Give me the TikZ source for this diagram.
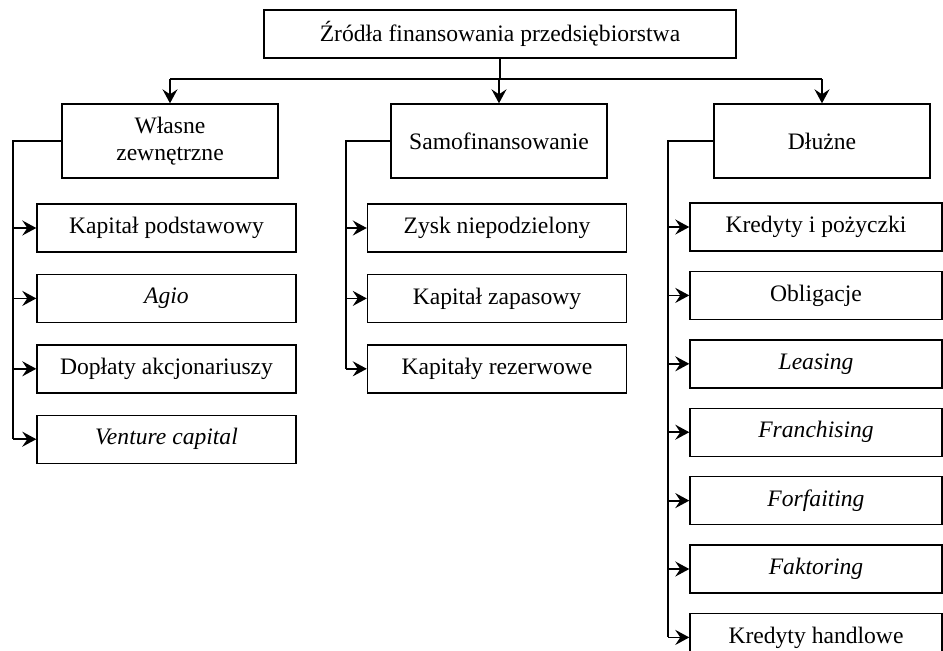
\documentclass[tikz,border=0pt]{standalone}
\usepackage{fontspec}
\setmainfont{Liberation Serif}
\usepackage{tikz}
\usetikzlibrary{arrows.meta, positioning, calc}
\tikzset{
  topblock/.style={
    rectangle, draw=black, line width=0.7pt, inner sep=0pt,
    minimum width=236pt, minimum height=24pt,
    text centered
  },
  groupblock/.style={
    rectangle, draw=black, line width=0.7pt, inner sep=0pt,
    minimum width=108pt, minimum height=37pt,
    align=center
  },
  itemblock/.style={
    rectangle, draw=black, line width=0.7pt, inner sep=0pt,
    minimum width=129.5pt, minimum height=24pt,
    text centered
  },
  connline/.style={line width=0.9pt, color=black},
  arrow/.style={-{Stealth[length=7pt, width=7.5pt, inset=2.5pt]}, line width=0.9pt, color=black},
}

\begin{document}
\begin{tikzpicture}[x=0.5pt, y=-0.5pt,
                    every node/.style={font=\fontsize{11.8pt}{13.5pt}\selectfont}]
  \useasboundingbox (0,0) rectangle (943,650);

  \node[topblock] (zrodla) at (500,34) {Źródła finansowania przedsiębiorstwa};

  \node[groupblock] (wlasne) at (170,141) {Własne\\zewnętrzne};
  \node[groupblock] (samo) at (499,141) {Samofinansowanie};
  \node[groupblock] (dluzne) at (822,141) {Dłużne};

  % wlasne zewnetrzne
  \node[itemblock] (kp) at (166.5,228) {Kapitał podstawowy};
  \node[itemblock, below=10.5pt of kp] (agio) {\textit{Agio}};
  \node[itemblock, below=10.5pt of agio] (doplaty) {Dopłaty akcjonariuszy};
  \node[itemblock, below=10.5pt of doplaty] (venture) {\textit{Venture capital}};

  % samofinansowanie
  \node[itemblock] (zysk) at (497,228) {Zysk niepodzielony};
  \node[itemblock, below=10.5pt of zysk] (kzap) {Kapitał zapasowy};
  \node[itemblock, below=10.5pt of kzap] (krez) {Kapitały rezerwowe};

  % dluzne
  \node[itemblock, minimum width=126pt] (kred) at (816,227) {Kredyty i pożyczki};
  \node[itemblock, minimum width=126pt, below=9.5pt of kred] (oblig) {Obligacje};
  \node[itemblock, minimum width=126pt, below=9.5pt of oblig] (leasing) {\textit{Leasing}};
  \node[itemblock, minimum width=126pt, below=9.5pt of leasing] (franch) {\textit{Franchising}};
  \node[itemblock, minimum width=126pt, below=9.5pt of franch] (forf) {\textit{Forfaiting}};
  \node[itemblock, minimum width=126pt, below=9.5pt of forf] (fakt) {\textit{Faktoring}};
  \node[itemblock, minimum width=126pt, below=9.5pt of fakt] (khand) {Kredyty handlowe};

  \coordinate (bar) at (500,79);
  \coordinate (wbus) at (13,141);
  \coordinate (sbus) at (346,141);
  \coordinate (dbus) at (668,141);

  \draw[connline] (zrodla.south) -- (bar);
  \draw[connline] (bar -| wlasne.north) -- (bar -| dluzne.north);
  \foreach \g in {wlasne, samo, dluzne}
    \draw[arrow] (bar -| \g.north) -- (\g.north);

  \draw[connline] (wlasne.west) -- (wbus) -- (wbus |- venture.west);
  \foreach \n in {kp, agio, doplaty, venture}
    \draw[arrow] (wbus |- \n.west) -- (\n.west);

  \draw[connline] (samo.west) -- (sbus) -- (sbus |- krez.west);
  \foreach \n in {zysk, kzap, krez}
    \draw[arrow] (sbus |- \n.west) -- (\n.west);

  \draw[connline] (dluzne.west) -- (dbus) -- (dbus |- khand.west);
  \foreach \n in {kred, oblig, leasing, franch, forf, fakt, khand}
    \draw[arrow] (dbus |- \n.west) -- (\n.west);
\end{tikzpicture}
\end{document}
